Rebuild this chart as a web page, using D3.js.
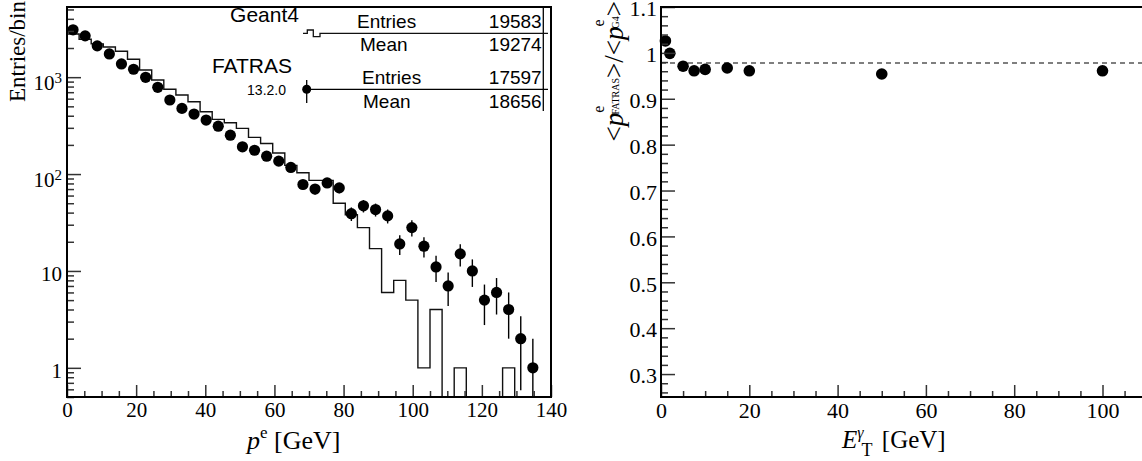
<!DOCTYPE html>
<html>
<head>
<meta charset="utf-8">
<script src="https://cdn.jsdelivr.net/npm/d3@7"></script>
<style>
body { margin: 0; background: #fff; }
svg { display: block; }
.serif { font-family: "Liberation Serif", "DejaVu Serif", serif; fill: #000; }
.sans { font-family: "Liberation Sans", Arial, sans-serif; fill: #000; }
.axis path.domain { display: none; }
.axis line { stroke: #333; stroke-width: 1.5; }
</style>
</head>
<body>
<svg id="chart" width="1142" height="461"></svg>
<script>
// left panel: electron momentum histogram, 3.5 GeV bins
var binEdges = [0, 3.5, 7, 10.5, 14, 17.5, 21, 24.5, 28, 31.5, 35, 38.5, 42, 45.5, 49, 52.5,
    56, 59.5, 63, 66.5, 70, 73.5, 77, 80.5, 84, 87.5, 91, 94.5, 98, 101.5, 105, 108.5,
    112, 115.5, 119, 122.5, 126, 129.5, 133, 136.5, 140];
var geant4Counts = [2790, 2467, 2207, 2050, 1850, 1532, 1187, 935, 750, 654, 557, 439, 367, 338,
    296, 239, 207, 165, 123, 103, 86, 86, 50, 38, 28, 17, 6, 8, 5, 1, 4, 0, 1, 0, 0, 0, 1, 0, 0, 0];
var fatrasCounts = [3083, 2670, 2104, 1738, 1370, 1207, 997, 786, 581, 476, 416, 361, 312, 252,
    191, 176, 153, 136, 117, 78, 70, 81, 72, 39, 47, 43, 37, 19, 28, 18, 11, 7, 15, 10, 5, 6, 4, 2, 1, 0];

var xTicksLeft = [0, 20, 40, 60, 80, 100, 120, 140];
var yTicksLeft = [1, 10, 100, 1000];

var statNames = ["Geant4", "FATRAS"];
var statEntries = ["19583", "17597"];
var statMeans = ["19274", "18656"];

// right panel: momentum ratio vs photon ET
var photonEt = [1, 2, 5, 7.5, 10, 15, 20, 50, 100];
var momentumRatio = [1.026, 0.999, 0.971, 0.961, 0.964, 0.967, 0.961, 0.954, 0.961];
var ratioReference = 0.978;
var xTicksRight = [0, 20, 40, 60, 80, 100];
var yTicksRight = [0.3, 0.4, 0.5, 0.6, 0.7, 0.8, 0.9, 1, 1.1];

var svg = d3.select("#chart");
svg.append("rect").attr("width", 1142).attr("height", 461).attr("fill", "#fff");

// ---------------- left panel ----------------
var L = {left: 67, right: 551, top: 7, bottom: 397};
var xE = d3.scaleLinear().domain([0, 140]).range([L.left, L.right]);
var yN = d3.scaleLog().domain([0.5, 5300]).range([L.bottom, L.top]);

svg.append("clipPath").attr("id", "clipL")
    .append("rect")
    .attr("x", L.left).attr("y", L.top)
    .attr("width", L.right - L.left).attr("height", L.bottom - L.top);

var left = svg.append("g");
var plotL = left.append("g").attr("clip-path", "url(#clipL)");

// geant4 step histogram
var stepPts = [[xE(binEdges[0]), L.bottom + 3]];
geant4Counts.forEach(function(c, i) {
    var yv = c > 0 ? yN(c) : L.bottom + 3;
    stepPts.push([xE(binEdges[i]), yv]);
    stepPts.push([xE(binEdges[i + 1]), yv]);
});
stepPts.push([xE(binEdges[binEdges.length - 1]), L.bottom + 3]);

plotL.append("path")
    .attr("d", d3.line()(stepPts))
    .attr("fill", "none")
    .attr("stroke", "#111")
    .attr("stroke-width", 1.4);

// fatras points with poisson errors
var fatras = fatrasCounts.map(function(c, i) {
    return {x: (binEdges[i] + binEdges[i + 1]) / 2, n: c, err: Math.sqrt(c)};
}).filter(function(d) { return d.n > 0; });

plotL.selectAll("line.err")
    .data(fatras)
    .enter().append("line")
    .attr("class", "err")
    .attr("x1", function(d) { return xE(d.x); })
    .attr("x2", function(d) { return xE(d.x); })
    .attr("y1", function(d) { return yN(d.n + d.err); })
    .attr("y2", function(d) { return d.n - d.err > 0 ? yN(d.n - d.err) : L.bottom + 3; })
    .attr("stroke", "#000")
    .attr("stroke-width", 1.4);

plotL.selectAll("circle")
    .data(fatras)
    .enter().append("circle")
    .attr("cx", function(d) { return xE(d.x); })
    .attr("cy", function(d) { return yN(d.n); })
    .attr("r", 5.6)
    .attr("fill", "#000");

// axes (ticks inside the frame, root style)
var xMinorLeft = d3.range(5, 140, 5).filter(function(v) { return v % 20 !== 0; });
left.append("g").attr("class", "axis")
    .attr("transform", "translate(0," + L.bottom + ")")
    .call(d3.axisBottom(xE).tickValues(xMinorLeft).tickSizeInner(-6).tickSizeOuter(0).tickFormat(""));
left.append("g").attr("class", "axis serif")
    .attr("transform", "translate(0," + L.bottom + ")")
    .call(d3.axisBottom(xE).tickValues(xTicksLeft).tickSizeInner(-12).tickSizeOuter(0).tickPadding(5))
    .selectAll("text")
    .attr("class", "serif")
    .style("font-size", "21px")
    .attr("fill", "#000");

var yMinorLeft = [];
[0.1, 1, 10, 100, 1000].forEach(function(dec) {
    for (var k = 2; k <= 9; k++) {
        var v = dec * k;
        if (v >= 0.5 && v <= 5300) yMinorLeft.push(v);
    }
});
left.append("g").attr("class", "axis")
    .attr("transform", "translate(" + L.left + ",0)")
    .call(d3.axisLeft(yN).tickValues(yMinorLeft).tickSizeInner(-7).tickSizeOuter(0).tickFormat(""));
var yMajL = left.append("g").attr("class", "axis")
    .attr("transform", "translate(" + L.left + ",0)")
    .call(d3.axisLeft(yN).tickValues(yTicksLeft).tickSizeInner(-14).tickSizeOuter(0).tickPadding(5));
yMajL.selectAll("text").each(function(d) {
    var t = d3.select(this).attr("class", "serif").style("font-size", "21px").text(null);
    var p = Math.round(Math.log10(d));
    if (p <= 1) {
        t.attr("dy", "0.47em").text(d === 1 ? "1" : "10");
    } else {
        t.attr("dy", "0.58em");
        t.append("tspan").text("10");
        t.append("tspan").attr("dy", -7).style("font-size", "15px").text(p);
    }
});

// frame
left.append("rect")
    .attr("x", L.left).attr("y", L.top)
    .attr("width", L.right - L.left).attr("height", L.bottom - L.top)
    .attr("fill", "none").attr("stroke", "#000").attr("stroke-width", 2);

// axis titles
left.append("text").attr("class", "serif")
    .attr("transform", "translate(25,1) rotate(-90)")
    .attr("text-anchor", "end")
    .style("font-size", "23px")
    .text("Entries/bin");

var xtl = left.append("text").attr("class", "serif")
    .attr("x", 247).attr("y", 449)
    .style("font-size", "26px");
xtl.append("tspan").style("font-style", "italic").text("p");
xtl.append("tspan").attr("dy", -11).style("font-size", "17px").text("e");
xtl.append("tspan").attr("dy", 11).text(" [GeV]");

// stats / legend block
var leg = left.append("g");
leg.append("line").attr("x1", 543.3).attr("x2", 543.3).attr("y1", L.top).attr("y2", 111)
    .attr("stroke", "#000").attr("stroke-width", 1.3);
leg.append("path")
    .attr("d", "M303,33.3H307.3V30H313.3V36.7H320V33.3H548")
    .attr("fill", "none").attr("stroke", "#111").attr("stroke-width", 1.3);
leg.append("line").attr("x1", 303).attr("x2", 548).attr("y1", 89.3).attr("y2", 89.3)
    .attr("stroke", "#000").attr("stroke-width", 1.3);
leg.append("line").attr("x1", 306.7).attr("x2", 306.7).attr("y1", 80).attr("y2", 103)
    .attr("stroke", "#000").attr("stroke-width", 1.3);
leg.append("circle").attr("cx", 306.7).attr("cy", 89.3).attr("r", 4.5).attr("fill", "#000");

var nameX = [299, 292], nameY = [22, 73];
statNames.forEach(function(n, i) {
    leg.append("text").attr("class", "sans")
        .attr("x", nameX[i]).attr("y", nameY[i])
        .attr("text-anchor", "end")
        .style("font-size", "21px")
        .text(n);
});
leg.append("text").attr("class", "sans")
    .attr("x", 286).attr("y", 95).attr("text-anchor", "end")
    .style("font-size", "14px").text("13.2.0");

var entY = [28.3, 84], meanY = [51, 108], entX = [357, 362], meanX = [360, 363];
statEntries.forEach(function(v, i) {
    leg.append("text").attr("class", "sans").attr("x", entX[i]).attr("y", entY[i])
        .style("font-size", "19px").text("Entries");
    leg.append("text").attr("class", "sans").attr("x", 541.7).attr("y", entY[i])
        .attr("text-anchor", "end").style("font-size", "19px").text(v);
    leg.append("text").attr("class", "sans").attr("x", meanX[i]).attr("y", meanY[i])
        .style("font-size", "19px").text("Mean");
    leg.append("text").attr("class", "sans").attr("x", 541.7).attr("y", meanY[i])
        .attr("text-anchor", "end").style("font-size", "19px").text(statMeans[i]);
});

// ---------------- right panel ----------------
var R = {left: 661, top: 7, bottom: 397};
var xR = d3.scaleLinear().domain([0, 110]).range([R.left, R.left + 110 * 4.415]);
var yR = d3.scaleLinear().domain([0.25, 1.1]).range([R.bottom, R.top]);
var right = svg.append("g");

right.append("line")
    .attr("x1", xR(0)).attr("x2", xR(110))
    .attr("y1", yR(ratioReference)).attr("y2", yR(ratioReference))
    .attr("stroke", "#555").attr("stroke-width", 1.5)
    .attr("stroke-dasharray", "5,4");

right.selectAll("circle")
    .data(photonEt.map(function(e, i) { return {e: e, r: momentumRatio[i]}; }))
    .enter().append("circle")
    .attr("cx", function(d) { return xR(d.e); })
    .attr("cy", function(d) { return yR(d.r); })
    .attr("r", 5.8)
    .attr("fill", "#000");

var xMinorRight = d3.range(5, 110, 5).filter(function(v) { return v % 20 !== 0; });
right.append("g").attr("class", "axis")
    .attr("transform", "translate(0," + R.bottom + ")")
    .call(d3.axisBottom(xR).tickValues(xMinorRight).tickSizeInner(-6).tickSizeOuter(0).tickFormat(""));
right.append("g").attr("class", "axis")
    .attr("transform", "translate(0," + R.bottom + ")")
    .call(d3.axisBottom(xR).tickValues(xTicksRight).tickSizeInner(-12).tickSizeOuter(0).tickPadding(5))
    .selectAll("text").attr("class", "serif").style("font-size", "22px");

var yMinorRight = d3.range(26, 110, 2).map(function(v) { return v / 100; })
    .filter(function(v) { return Math.round(v * 100) % 10 !== 0; });
right.append("g").attr("class", "axis")
    .attr("transform", "translate(" + R.left + ",0)")
    .call(d3.axisLeft(yR).tickValues(yMinorRight).tickSizeInner(-7).tickSizeOuter(0).tickFormat(""));
right.append("g").attr("class", "axis")
    .attr("transform", "translate(" + R.left + ",0)")
    .call(d3.axisLeft(yR).tickValues(yTicksRight).tickSizeInner(-14).tickSizeOuter(0).tickPadding(4)
        .tickFormat(function(d) { return d === 1 ? "1" : d3.format(".1f")(d); }))
    .selectAll("text").attr("class", "serif").attr("dy", "0.4em").style("font-size", "22px");

right.append("rect")
    .attr("x", R.left).attr("y", R.top)
    .attr("width", xR(110) - R.left).attr("height", R.bottom - R.top)
    .attr("fill", "none").attr("stroke", "#000").attr("stroke-width", 2);

// right axis titles
var ytr = right.append("text").attr("class", "serif")
    .attr("transform", "translate(623,1) rotate(-90)")
    .attr("text-anchor", "end")
    .style("font-size", "27px");
ytr.append("tspan").text("<");
ytr.append("tspan").style("font-style", "italic").text("p");
ytr.append("tspan").attr("dy", -19).style("font-size", "16px").text("e");
ytr.append("tspan").attr("dx", -9).attr("dy", 15).style("font-size", "10px").text("FATRAS");
ytr.append("tspan").attr("dy", 4).text(">/<");
ytr.append("tspan").style("font-style", "italic").text("p");
ytr.append("tspan").attr("dy", -19).style("font-size", "16px").text("e");
ytr.append("tspan").attr("dx", -9).attr("dy", 15).style("font-size", "10px").text("G4");
ytr.append("tspan").attr("dy", 4).text(">");

var xtr = right.append("text").attr("class", "serif")
    .attr("x", 842).attr("y", 448)
    .style("font-size", "25px");
xtr.append("tspan").style("font-style", "italic").text("E");
xtr.append("tspan").attr("dy", -10).style("font-size", "16px").style("font-style", "italic").text("\u03b3");
xtr.append("tspan").attr("dx", -2).attr("dy", 18).style("font-size", "18px").text("T");
xtr.append("tspan").attr("dx", 3).attr("dy", -8).text(" [GeV]");
</script>
</body>
</html>
